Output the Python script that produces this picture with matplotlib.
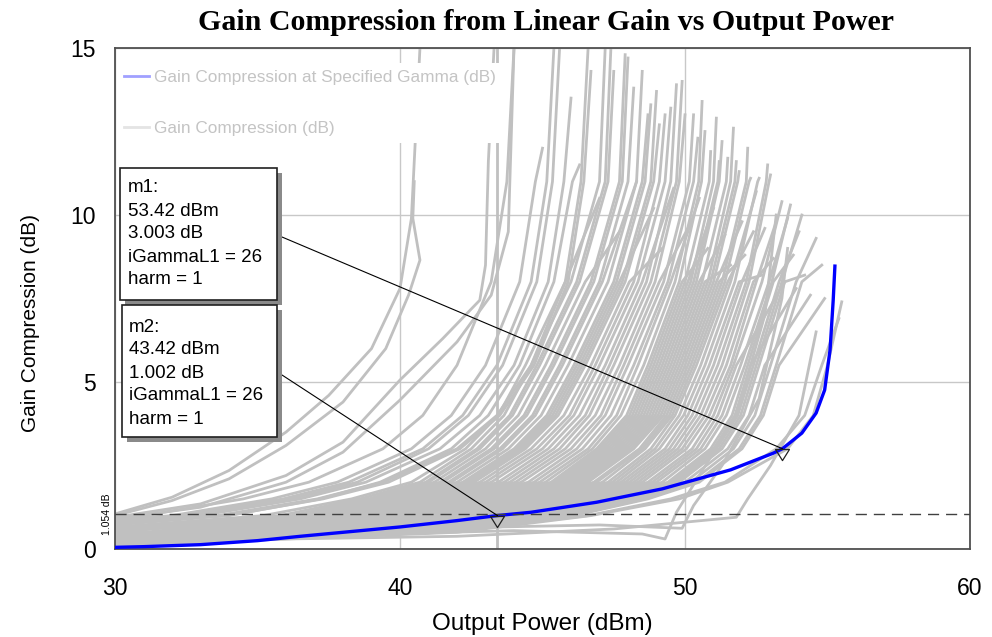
import numpy as np
import matplotlib
matplotlib.use("Agg")
import matplotlib.pyplot as plt
from matplotlib.lines import Line2D
from matplotlib.patches import Rectangle
from matplotlib.path import Path

nan = float("nan")

# ---------------- data ----------------
title = "Gain Compression from Linear Gain vs Output Power"
x_label = "Output Power (dBm)"
y_label = "Gain Compression (dB)"
x_ticks = [30, 40, 50, 60]
y_ticks = [0, 5, 10, 15]
legend_labels = ["Gain Compression at Specified Gamma (dB)", "Gain Compression (dB)"]

# Gain compression at specified gamma (blue)
blue_x = [30.0, 31.0, 33.0, 35.0, 36.5, 38.0, 40.0, 42.0, 43.42, 44.6, 46.9,
          49.2, 51.6, 53.1, 53.42, 54.1, 54.6, 54.9, 55.09, 55.2, 55.26]
blue_y = [0.05, 0.07, 0.13, 0.25, 0.38, 0.5, 0.66, 0.85, 1.002, 1.1, 1.4,
          1.8, 2.37, 2.87, 3.003, 3.47, 4.07, 4.76, 5.96, 7.45, 8.47]

# Grey family: value at 30 dBm, output power where each compression level
# (dB) is crossed, and the last point of each trace
gc_levels = [0.5, 1, 1.5, 2, 3, 4, 5.5, 8, 11]
gc_xend = [44.0, 45.4, 45.6, 46.6, 46.7, 47.0, 47.2, 47.4, 47.5, 47.7,
           47.9, 48.0, 48.2, 48.3, 48.5, 48.7, 48.8, 48.9, 49.0, 49.1,
           49.2, 49.3, 49.5, 49.6, 49.7, 49.9, 50.0, 50.1, 50.3, 50.45,
           50.5, 50.6, 50.7, 50.8, 50.9, 51.0, 51.1, 51.2, 51.3, 51.4,
           51.5, 51.6, 51.7, 51.8, 51.9, 52.0, 52.1, 52.2, 52.3, 52.4,
           52.5, 52.6, 52.7, 52.8, 52.9, 53.0, 53.1, 53.2, 53.4, 53.5,
           53.6, 53.7, 53.8, 53.9, 54.0, 54.1, 54.2, 54.4, 54.6, 54.8,
           54.9, 55.4, 55.5, 45.0, 46.0, 46.3]
gc_yend = [15, 15, 15, 15, 14.3, 10.5, 15, 15, 14.3, 9.5,
           14.8, 14.7, 13.8, 11.0, 14.3, 13.0, 13.3, 10.2, 13.7, 12.7,
           9.0, 13.0, 13.2, 10.8, 13.9, 14.0, 13.0, 9.6, 13.0, 12.3,
           10.5, 13.4, 12.5, 9.0, 11.9, 10.2, 12.9, 11.6, 12.2, 9.4,
           11.7, 8.5, 12.6, 11.6, 11.3, 9.8, 8.8, 12.0, 11.1, 9.5,
           10.7, 11.1, 8.2, 9.6, 11.5, 11.2, 8.7, 9.8, 10.4, 8.0,
           9.9, 10.3, 8.8, 7.8, 9.5, 10.0, 8.2, 7.6, 9.3, 8.5,
           7.5, 6.9, 7.4, 12.0, 13.5, 11.5]
gc_start = [0.95, 0.90, 0.87, 0.83, 0.80, 0.66, 0.62, 0.58, 0.55, 0.52,
            0.50, 0.48, 0.47, 0.46, 0.45, 0.45, 0.44, 0.43, 0.42, 0.41,
            0.40, 0.40, 0.39, 0.38, 0.38, 0.37, 0.36, 0.35, 0.34, 0.33,
            0.33, 0.32, 0.32, 0.31, 0.30, 0.30, 0.29, 0.28, 0.28, 0.27,
            0.27, 0.26, 0.26, 0.25, 0.25, 0.24, 0.24, 0.23, 0.23, 0.22,
            0.22, 0.21, 0.21, 0.20, 0.20, 0.19, 0.19, 0.18, 0.18, 0.17,
            0.17, 0.16, 0.16, 0.15, 0.15, 0.14, 0.14, 0.13, 0.13, 0.12,
            0.12, 0.11, 0.10, 0.86, 0.78, 0.72]
gc_x05 = [nan, nan, nan, nan, nan, nan, nan, nan, nan, nan,
          nan, 31.0, 31.5, 32.0, 32.2, 32.5, 32.6, 32.8, 33.0, 33.1,
          33.3, 33.5, 33.7, 33.9, 34.1, 34.3, 34.5, 34.7, 34.9, 35.1,
          35.25, 35.4, 35.6, 35.8, 36.0, 36.2, 36.4, 36.6, 36.8, 37.0,
          37.2, 37.4, 37.5, 37.6, 37.7, 37.8, 37.9, 38.0, 38.2, 38.4,
          38.6, 38.8, 39.0, 39.1, 39.2, 39.3, 39.5, 39.6, 39.8, 39.9,
          40.0, 40.1, 40.3, 40.4, 40.5, 40.6, 40.7, 40.9, 41.1, 41.3,
          41.4, 41.5, 42.0, nan, nan, nan]
gc_x1 = [31.0, 32.4, 32.8, 33.6, 33.9, 35.2, 35.8, 36.2, 36.5, 36.7,
         36.9, 37.0, 37.2, 37.3, 37.5, 37.7, 37.8, 37.9, 38.0, 38.1,
         38.3, 38.5, 38.7, 38.9, 39.1, 39.3, 39.5, 39.7, 39.9, 40.1,
         40.3, 40.5, 40.7, 40.9, 41.0, 41.2, 41.3, 41.4, 41.6, 41.7,
         41.8, 41.9, 42.0, 42.1, 42.2, 42.3, 42.5, 42.6, 42.7, 42.9,
         43.05, 43.2, 43.35, 43.5, 43.65, 43.8, 43.95, 44.1, 44.3, 44.45,
         44.6, 44.8, 45.0, 45.1, 45.2, 45.3, 45.4, 45.6, 45.8, 46.0,
         46.1, 46.6, 46.7, 32.0, 33.0, 34.0]
gc_x15 = [34.5, 35.9, 36.2, 37.1, 37.3, 38.3, 38.6, 38.9, 39.0, 39.2,
          39.4, 39.5, 39.7, 39.8, 40.0, 40.2, 40.3, 40.4, 40.5, 40.6,
          40.8, 41.0, 41.2, 41.4, 41.6, 41.85, 42.05, 42.25, 42.45, 42.65,
          42.85, 43.1, 43.3, 43.5, 43.6, 43.8, 43.9, 44.0, 44.1, 44.2,
          44.3, 44.4, 44.5, 44.6, 44.7, 44.8, 45.0, 45.1, 45.3, 45.5,
          45.65, 45.8, 45.95, 46.1, 46.25, 46.4, 46.55, 46.7, 46.9, 47.05,
          47.2, 47.4, 47.6, 47.7, 47.8, 47.9, 48.0, 48.2, 48.4, 48.6,
          48.7, 49.5, 49.8, 35.5, 36.5, 37.2]
gc_x2 = [36.8, 38.2, 38.5, 39.4, 39.6, 40.4, 40.7, 40.9, 41.0, 41.2,
         41.4, 41.5, 41.7, 41.8, 42.0, 42.2, 42.3, 42.4, 42.5, 42.6,
         42.8, 43.0, 43.2, 43.45, 43.65, 43.85, 44.05, 44.25, 44.5, 44.7,
         44.9, 45.1, 45.3, 45.4, 45.5, 45.6, 45.7, 45.8, 45.9, 46.0,
         46.1, 46.2, 46.3, 46.4, 46.5, 46.6, 46.8, 46.9, 47.1, 47.3,
         47.45, 47.6, 47.75, 47.9, 48.05, 48.2, 48.35, 48.5, 48.7, 48.85,
         49.0, 49.2, 49.4, 49.5, 49.6, 49.7, 49.8, 50.0, 50.2, 50.4,
         50.5, 51.4, 51.5, 37.8, 38.8, 39.3]
gc_x3 = [39.4, 40.8, 41.0, 42.0, 42.1, 42.3, 42.5, 42.7, 42.8, 43.0,
         43.2, 43.3, 43.5, 43.6, 43.8, 44.0, 44.1, 44.2, 44.3, 44.4,
         44.6, 44.8, 45.0, 45.2, 45.4, 45.6, 45.8, 46.0, 46.2, 46.4,
         46.6, 46.75, 46.9, 47.0, 47.1, 47.2, 47.3, 47.4, 47.5, 47.6,
         47.7, 47.8, 47.9, 48.0, 48.1, 48.2, 48.4, 48.5, 48.6, 48.8,
         48.95, 49.1, 49.3, 49.45, 49.6, 49.75, 49.9, 50.05, 50.25, 50.4,
         50.55, 50.7, 50.9, 51.0, 51.1, 51.2, 51.3, 51.5, 51.7, 51.9,
         52.0, 53.2, 53.6, 40.4, 41.4, 41.8]
gc_x4 = [40.8, 42.2, 42.4, 43.4, 43.5, 43.45, 43.65, 43.85, 43.95, 44.15,
         44.35, 44.45, 44.65, 44.75, 44.95, 45.15, 45.25, 45.35, 45.45, 45.55,
         45.75, 45.95, 46.1, 46.3, 46.5, 46.65, 46.85, 47.05, 47.2, 47.4,
         47.6, 47.75, 47.95, 48.05, 48.15, 48.25, 48.35, 48.45, 48.55, 48.65,
         48.75, 48.85, 48.95, 49.05, 49.15, 49.25, 49.35, 49.45, 49.55, 49.65,
         49.8, 49.95, 50.1, 50.25, 50.4, 50.55, 50.7, 50.85, 51.0, 51.15,
         51.3, 51.45, 51.65, 51.75, 51.85, 51.95, 52.05, 52.25, 52.45, 52.65,
         52.75, 54.2, 54.5, 41.8, 42.8, 43.1]
gc_x55 = [42.0, 43.4, 43.6, 44.6, 44.7, 44.4, 44.6, 44.8, 44.9, 45.1,
          45.3, 45.4, 45.6, 45.7, 45.9, 46.1, 46.2, 46.3, 46.4, 46.5,
          46.7, 46.85, 47.0, 47.2, 47.35, 47.5, 47.7, 47.85, 48.0, 48.2,
          48.35, 48.55, 48.7, 48.8, 48.9, 49.0, 49.1, 49.2, 49.3, 49.4,
          49.5, 49.6, 49.7, 49.8, 49.9, 50.0, 50.1, 50.2, 50.3, 50.4,
          50.55, 50.7, 50.85, 51.0, 51.15, 51.3, 51.45, 51.6, 51.7, 51.8,
          51.95, 52.1, 52.2, 52.3, 52.4, 52.5, 52.6, 52.8, 53.0, 53.2,
          53.3, 54.8, 55.0, 43.0, 44.0, 44.2]
gc_x8 = [43.2, 44.6, 44.8, 45.8, 45.9, 45.8, 46.0, 46.2, 46.3, 46.5,
         46.7, 46.8, 47.0, 47.1, 47.3, 47.5, 47.6, 47.7, 47.8, 47.9,
         48.05, 48.2, 48.35, 48.5, 48.65, 48.8, 48.95, 49.1, 49.25, 49.4,
         49.5, 49.65, 49.8, 49.9, 50.0, 50.1, 50.2, 50.3, 50.4, 50.5,
         50.6, 50.7, 50.8, 50.9, 51.0, 51.1, 51.2, 51.3, 51.4, 51.5,
         51.6, 51.75, 51.9, 52.0, 52.15, 52.25, 52.4, 52.5, 52.7, 52.85,
         52.95, 53.05, 53.1, nan, 53.3, 53.4, 53.5, nan, 53.9, 54.1,
         nan, nan, nan, 44.2, 45.2, 45.4]
gc_x11 = [43.75, 45.15, 45.35, 46.35, 46.45, nan, 47.0, 47.2, 47.3, nan,
          47.7, 47.8, 48.0, nan, 48.3, 48.5, 48.6, nan, 48.8, 48.9,
          nan, 49.1, 49.3, nan, 49.5, 49.7, 49.8, nan, 50.15, 50.3,
          nan, 50.48, 50.58, nan, 50.85, nan, 51.0, 51.15, 51.2, nan,
          51.45, nan, 51.6, 51.75, 51.85, nan, nan, 52.15, 52.25, nan,
          nan, 52.55, nan, nan, 52.85, 52.95, nan, nan, nan, nan,
          nan, nan, nan, nan, nan, nan, nan, nan, nan, nan,
          nan, nan, nan, 44.75, 45.75, 46.05]

# Individual grey traces (early saturating, kinked, vertical and hooked ones)
extra_x = [
    [30, 32, 34, 36, 37.5, 39, 40, 40.4, 40.5, 40.7],
    [30, 32, 34, 36, 38, 39.5, 40.3, 40.7, 40.45, 40.5],
    [30, 33, 36, 38, 40, 41.5, 42.8, 43.0, 43.1, 43.3],
    [30, 33, 36, 38, 40, 42, 43.2, 43.8, 44.0],
    [43.42, 43.42],
    [30, 38, 44, 48.5, 49.3, 49.7, 50.5, 51.8, 52.8, 53.2],
    [30, 40, 47, 49.9, 50.3, 51.3, 52.6, 53.4, 53.6],
    [30, 42, 47.5, 51.8, 52.2, 53.0, 54.0, 54.6],
]
extra_y = [
    [1.05, 1.55, 2.35, 3.5, 4.6, 6.0, 7.8, 9.9, 11.6, 15],
    [1.0, 1.45, 2.1, 3.1, 4.4, 6.0, 7.6, 8.65, 9.9, 11.0],
    [0.95, 1.35, 2.2, 3.2, 5.06, 6.3, 7.45, 8.5, 11.6, 15],
    [0.9, 1.25, 2.0, 2.9, 4.46, 6.2, 7.6, 9.5, 15],
    [0.0, 15.0],
    [0.3, 0.42, 0.55, 0.45, 0.3, 1.1, 2.2, 4.0, 7.0, 10.0],
    [0.45, 0.6, 0.72, 0.62, 1.3, 2.5, 4.5, 7.5, 9.0],
    [0.22, 0.38, 0.6, 0.95, 1.5, 2.5, 4.0, 6.5],
]

# markers
marker_names = ["m1", "m2"]
marker_x = [53.42, 43.42]
marker_y = [3.003, 1.002]
marker_gamma = [26, 26]
marker_harm = [1, 1]
ref_level = 1.054

# ---------------- figure ----------------
W, H = 992, 637
fig = plt.figure(figsize=(W / 100, H / 100), dpi=100)
ax = fig.add_axes([115 / W, 88 / H, 855 / W, 501 / H])
ax.set_xlim(30, 60)
ax.set_ylim(0, 15)

sans = ["Liberation Sans", "DejaVu Sans"]

grey = "#c0c0c0"
cols = [gc_x05, gc_x1, gc_x15, gc_x2, gc_x3, gc_x4, gc_x55, gc_x8, gc_x11]
for i in range(len(gc_start)):
    xs = [30.0]
    ys = [gc_start[i]]
    for L, col in zip(gc_levels, cols):
        v = col[i]
        if not np.isnan(v) and gc_start[i] < L < gc_yend[i]:
            xs.append(v)
            ys.append(L)
    xs.append(gc_xend[i])
    ys.append(gc_yend[i])
    ax.plot(xs, ys, color=grey, lw=2.0, zorder=2, solid_joinstyle="round")
for xs, ys in zip(extra_x, extra_y):
    ax.plot(xs, ys, color=grey, lw=2.0, zorder=2, solid_joinstyle="round")

ax.plot(blue_x, blue_y, color="#0000ff", lw=2.4, zorder=4)
ax.axhline(ref_level, color="#404040", lw=1.0, dashes=(8, 5), zorder=5)

tri = Path([(-1, 0), (1, 0), (0, -1.6), (-1, 0)],
           [Path.MOVETO, Path.LINETO, Path.LINETO, Path.CLOSEPOLY])
ax.plot(marker_x, marker_y, ls="none", marker=tri, ms=16, mfc="none",
        mec="#202020", mew=0.9, zorder=6)

# ticks, grid, spines
ax.set_xticks(x_ticks)
ax.set_yticks(y_ticks)
ax.tick_params(length=0)
ax.tick_params(axis="x", pad=20)
ax.tick_params(axis="y", pad=14)
for lab in ax.get_xticklabels() + ax.get_yticklabels():
    lab.set_fontfamily(sans)
    lab.set_fontsize(16.5)
ax.grid(True, color="#c8c8c8", lw=1.0, zorder=1)
ax.set_axisbelow(True)
for s in ax.spines.values():
    s.set_color("#505050")
    s.set_linewidth(1.3)

ax.set_xlabel(x_label, fontsize=17.5, family=sans)
ax.set_ylabel(y_label, fontsize=15, family=sans)
ax.xaxis.set_label_coords(0.5, -0.127)
ax.yaxis.set_label_coords(-0.088, 0.451)

fig.text(0.55, 0.964, title, ha="center", va="center", fontsize=21.5,
         fontweight="bold", family=["Liberation Serif", "DejaVu Serif"])

ax.text(-0.0094, ref_level, "%.3f dB" % ref_level, transform=ax.get_yaxis_transform(),
        rotation=90, ha="center", va="center", fontsize=7.5, family=sans)

# legend
handles = [Line2D([], [], color="#a0a0ff", lw=2), Line2D([], [], color="#e4e4e4", lw=2)]
leg = ax.legend(handles, legend_labels, loc="upper left", bbox_to_anchor=(0.002, 0.970),
                frameon=True, fancybox=False, edgecolor="none", facecolor="white",
                framealpha=1, prop={"family": sans, "size": 12.4}, labelcolor="#c4c4c4",
                handlelength=1.5, handletextpad=0.25, labelspacing=2.1, borderpad=0.4,
                borderaxespad=0)
leg.set_zorder(10)

# marker boxes
def px2ax(px, py):
    return (px - 115) / 855, (549 - py) / 501

boxes = [(120, 168, 277, 300), (122, 305, 277, 437)]
text_left = [128, 129]
text_top = [188, 327]
anchors = [(282, 237), (282, 375)]
for k in range(2):
    x0, y0 = px2ax(boxes[k][0], boxes[k][3])
    x1, y1 = px2ax(boxes[k][2], boxes[k][1])
    sh = Rectangle((x0 + 5 / 855, y0 - 5 / 501), x1 - x0, y1 - y0, transform=ax.transAxes,
                   facecolor="#8a8a8a", edgecolor="none", zorder=11, clip_on=False)
    ax.add_patch(sh)
    bx = Rectangle((x0, y0), x1 - x0, y1 - y0, transform=ax.transAxes,
                   facecolor="white", edgecolor="#202020", lw=1.2, zorder=12, clip_on=False)
    ax.add_patch(bx)
    lines = [marker_names[k] + ":", "%.2f dBm" % marker_x[k], "%.3f dB" % marker_y[k],
             "iGammaL1 = %d" % marker_gamma[k], "harm = %d" % marker_harm[k]]
    for j, t in enumerate(lines):
        tx, ty = px2ax(text_left[k], text_top[k] + j * 23)
        ax.text(tx, ty, t, transform=ax.transAxes, ha="left", va="center",
                fontsize=13.5, family=sans, color="black", zorder=13)
    ax.annotate("", xy=(marker_x[k], marker_y[k]), xycoords="data",
                xytext=px2ax(*anchors[k]), textcoords="axes fraction",
                arrowprops=dict(arrowstyle="-", color="black", lw=0.8,
                                shrinkA=0, shrinkB=0), zorder=9)

fig.savefig("out.png", dpi=100)
